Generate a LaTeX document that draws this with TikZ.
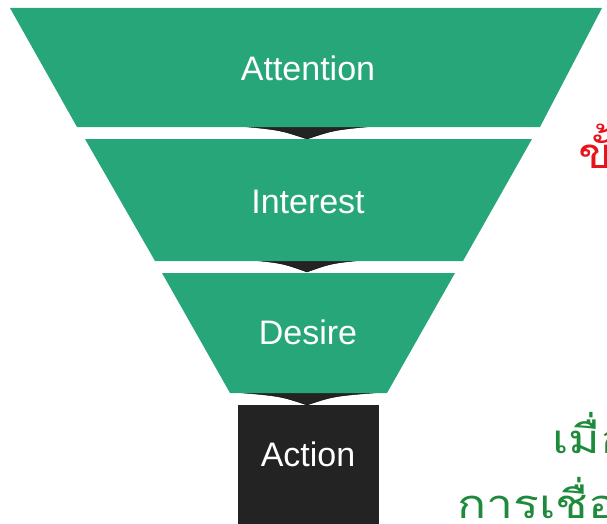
\documentclass[tikz,border=0pt]{standalone}
\usepackage{fontspec}
\setmainfont{Liberation Sans}
\newfontfamily\thaifont[Script=Thai]{Loma}
\usepackage{tikz}
\usetikzlibrary{positioning}
\definecolor{funnelgreen}{HTML}{27A67A}
\definecolor{funneldark}{HTML}{232323}
\definecolor{notered}{HTML}{E8141C}
\definecolor{notegreen}{HTML}{1E8A3C}

\begin{document}
\begin{tikzpicture}[x=1pt, y=-1pt,
    stage/.style={fill=funnelgreen},
    chevron/.style={fill=funneldark},
    stagetext/.style={text=white, inner sep=0pt, font=\fontsize{34}{34}\selectfont},
    notetext/.style={anchor=base west, inner sep=0pt, transform shape, xscale=1.2}]
  \useasboundingbox (0,0) rectangle (607,524);
  \clip (0,0) rectangle (607,524);
  % dark chevrons between the stages
  \draw[chevron] (238,126) .. controls (280,130) .. (307,139) .. controls (334,130) .. (376,126) -- cycle;
  \draw[chevron] (240,259) .. controls (282,263) .. (307,272) .. controls (332,263) .. (376,259) -- cycle;
  \draw[chevron] (232,392) .. controls (280,396) .. (307,405) .. controls (334,396) .. (386,392) -- cycle;
  % funnel stages
  \fill[stage] (10,8) -- (602,8) -- (540,127) -- (77,127) -- cycle;
  \fill[stage] (85,139) -- (532,139) -- (463,261) -- (155,261) -- cycle;
  \fill[stage] (162,273) -- (455,273) -- (387,393) -- (230,393) -- cycle;
  \fill[funneldark] (238,405) rectangle (379,530);
  \node[stagetext] (attention) at (308,68) {Attention};
  \node[stagetext] (interest) at (308,202) {Interest};
  \node[stagetext] (desire) at (308,332) {Desire};
  \node[stagetext] (action) at (308,454) {Action};
  % notes cut off at the right edge
  \node[notetext, text=notered, font=\thaifont\fontsize{42}{46}\selectfont] (step) at (578,168) {ขั้};
  \node[notetext, text=notegreen, font=\thaifont\fontsize{40}{44}\selectfont] (when) at (552,453) {เมื่อ};
  \node[notetext, text=notegreen, font=\thaifont\fontsize{40}{44}\selectfont] (link) at (457,518) {การเชื่อ};
\end{tikzpicture}
\end{document}
